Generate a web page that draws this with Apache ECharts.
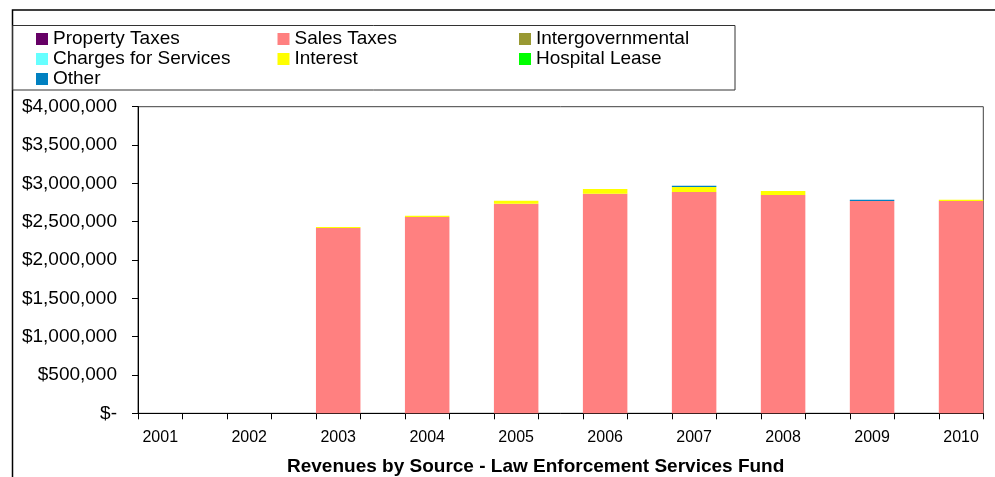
<!DOCTYPE html>
<html>
<head>
<meta charset="utf-8">
<script src="https://cdn.jsdelivr.net/npm/echarts@6/dist/echarts.min.js"></script>
<style>
  html, body { margin: 0; padding: 0; background: #fff; }
  #chart { width: 995px; height: 477px; }
</style>
</head>
<body>
<div id="chart"></div>
<script>
// ---- Data ----
const years = [2001, 2002, 2003, 2004, 2005, 2006, 2007, 2008, 2009, 2010];
const propertyTaxes      = [null, null, null, null, null, null, null, null, null, null];
const salesTaxes         = [null, null, 2417000, 2561000, 2734000, 2865000, 2887000, 2848000, 2770000, 2770000];
const intergovernmental  = [null, null, null, null, null, null, null, null, null, null];
const chargesForServices = [null, null, null, null, null, null, null, null, null, null];
const interest           = [null, null, 15000, 17000, 39000, 61000, 65000, 52000, null, 17000];
const hospitalLease      = [null, null, null, null, null, null, null, null, null, null];
const other              = [null, null, null, null, null, null, 17000, null, 17000, null];
const seriesNames = ['Property Taxes', 'Sales Taxes', 'Intergovernmental', 'Charges for Services', 'Interest', 'Hospital Lease', 'Other'];
const yTickValues = [0, 500000, 1000000, 1500000, 2000000, 2500000, 3000000, 3500000, 4000000];
const chartTitle = 'Revenues by Source - Law Enforcement Services Fund';

// ---- Styles ----
const seriesValues = [propertyTaxes, salesTaxes, intergovernmental, chargesForServices, interest, hospitalLease, other];
const seriesColors = ['#660066', '#FF8080', '#999933', '#66FFFF', '#FFFF00', '#00FF00', '#0080C0'];
const FONT = '"Liberation Sans", Arial, Helvetica, sans-serif';

const chart = echarts.init(document.getElementById('chart'));

// value first so that the stack is computed on the value dimension
const series = seriesNames.map((name, k) => ({
  name: name,
  type: 'bar',
  stack: 'total',
  barWidth: 44.5,
  itemStyle: { color: seriesColors[k] },
  emphasis: { disabled: true },
  encode: { x: 1, y: 0 },
  data: years.map((yr, i) => [seriesValues[k][i], yr])
}));

const xTickValues = [];
years.forEach(yr => { xTickValues.push(yr - 0.25, yr + 0.25); });

const option = {
  animation: false,
  backgroundColor: '#ffffff',
  textStyle: { fontFamily: FONT },
  title: {
    text: chartTitle,
    left: 287,
    top: 457.5,
    padding: 0,
    textStyle: { fontFamily: FONT, fontSize: 19, fontWeight: 'bold', color: '#000', lineHeight: 19 }
  },
  legend: {
    show: true,
    left: 36,
    top: 29,
    width: 735,
    padding: 0,
    itemGap: 0,
    itemWidth: 12,
    itemHeight: 12,
    icon: 'rect',
    orient: 'horizontal',
    selectedMode: false,
    data: seriesNames,
    textStyle: { fontFamily: FONT, fontSize: 19, color: '#000', width: 224.5, lineHeight: 20 }
  },
  grid: {
    left: 138,
    right: 11.7,
    top: 106.7,
    bottom: 63.7,
    show: true,
    borderColor: '#404040',
    borderWidth: 1,
    containLabel: false
  },
  xAxis: {
    type: 'value',
    min: 2000.75,
    max: 2010.25,
    splitLine: { show: false },
    axisLine: { show: true, lineStyle: { color: '#000', width: 1 } },
    axisTick: { show: true, inside: false, length: 6, customValues: xTickValues, lineStyle: { color: '#000' } },
    axisLabel: {
      show: true,
      customValues: years,
      margin: 16,
      fontFamily: FONT,
      fontSize: 16,
      lineHeight: 16,
      color: '#000',
      formatter: v => String(v)
    }
  },
  yAxis: {
    type: 'value',
    min: 0,
    max: 4000000,
    interval: 500000,
    splitLine: { show: false },
    axisLine: { show: true, lineStyle: { color: '#000', width: 1 } },
    axisTick: { show: true, inside: false, length: 6, lineStyle: { color: '#000' } },
    axisLabel: {
      show: true,
      customValues: yTickValues,
      margin: 21,
      fontFamily: FONT,
      fontSize: 19,
      color: '#000',
      formatter: v => v === 0 ? '$-' : '$' + v.toLocaleString('en-US')
    }
  },
  graphic: [
    {
      type: 'rect',
      silent: true,
      shape: { x: 12.5, y: 10, width: 1000, height: 500 },
      style: { fill: 'none', stroke: '#000', lineWidth: 1.5 }
    },
    {
      type: 'rect',
      silent: true,
      shape: { x: 12.5, y: 25.5, width: 722.5, height: 64.5 },
      style: { fill: 'none', stroke: '#333', lineWidth: 1 }
    }
  ],
  series: series
};

chart.setOption(option);
</script>
</body>
</html>
